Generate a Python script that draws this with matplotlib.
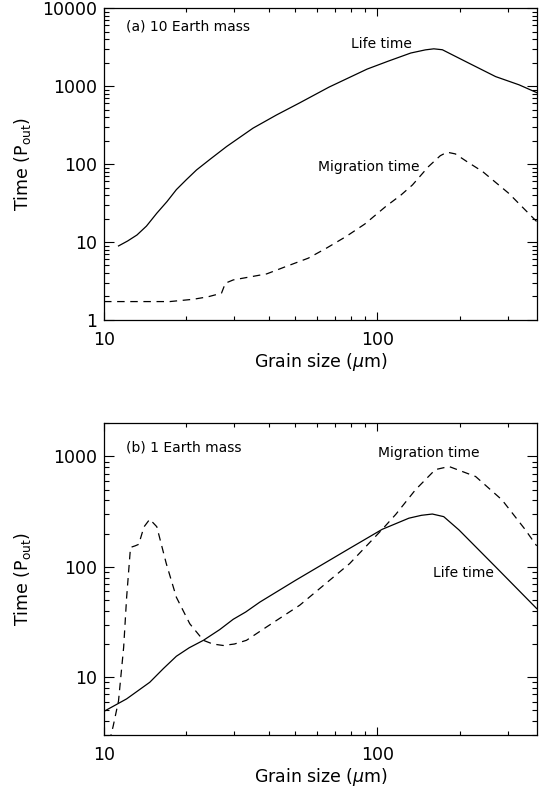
import matplotlib
matplotlib.use('Agg')
import matplotlib.pyplot as plt
from matplotlib.ticker import FixedLocator, FuncFormatter, NullFormatter, LogLocator

# (a) 10 Earth mass
size_life_a = [11.3, 12.2, 13.2, 14.3, 15.6, 17.0, 18.4, 20.0, 21.8, 24.5, 28.1, 31.5,
               35.1, 42.8, 52.0, 66.6, 91.8, 110, 132.6, 150, 161, 173, 190, 216, 271, 330, 383]
life_a = [8.9, 10.3, 12.3, 16.0, 23.4, 33, 47, 62.9, 84, 116, 168, 222,
          289, 427, 610, 972, 1655, 2100, 2660, 2920, 3010, 2930, 2480, 1976, 1325, 1040, 826]

size_mig_a = [10.0, 14.0, 17.4, 21.2, 24.0, 26.9, 27.8, 29.7, 34.0, 39.4, 46.0, 55.9, 65.0,
              76.7, 90.0, 107.3, 122, 134.5, 154, 170, 180, 193, 215, 243, 303, 383]
mig_a = [1.72, 1.72, 1.72, 1.84, 1.98, 2.2, 2.96, 3.26, 3.55, 3.9, 4.8, 6.2, 8.3,
         11.7, 17.0, 28.5, 40, 54, 93, 128, 142, 135, 105, 80, 42, 18.3]

# (b) 1 Earth mass
size_life_b = [10.0, 12.1, 14.7, 16.5, 18.4, 20.5, 23.1, 26.5, 29.7, 33.0, 37.2, 50.3,
               79.2, 104.3, 130.5, 145, 159, 175, 199, 271, 383]
life_b = [4.91, 6.37, 9.0, 12.0, 15.5, 18.5, 21.6, 27, 33.5, 39, 48, 75.7,
          147, 219, 276, 293, 301, 285, 216, 100, 41.9]

size_mig_b = [10.2, 10.8, 11.3, 11.8, 12.1, 12.5, 13.0, 13.4, 14.0, 14.7, 15.6, 16.9, 18.4,
              20.6, 23.1, 25.0, 27.3, 30.0, 33.2, 39.3, 52.0, 79.2, 104.3, 117, 138, 163,
              183, 229, 286, 345, 383]
mig_b = [2.0, 3.6, 6.1, 18.7, 53, 150, 155, 160, 230, 270, 231, 107, 53,
         30.5, 21.6, 20.0, 19.4, 20.0, 21.6, 28.5, 44.9, 107, 219, 300, 500, 760,
         811, 658, 404, 223, 155]

xmin, xmax = 10, 384

plt.rcParams['font.family'] = ['DejaVu Sans']
plt.rcParams['mathtext.fontset'] = 'dejavusans'

fig = plt.figure(figsize=(5.46, 7.88), dpi=100)
ax1 = fig.add_axes([0.1905, 0.594, 0.793, 0.3956])
ax2 = fig.add_axes([0.1905, 0.0673, 0.793, 0.3956])

dash = (0, (6, 4.5))


def style(ax, ylo, yhi, ymajor):
    ax.set_xscale('log')
    ax.set_yscale('log')
    ax.set_xlim(xmin, xmax)
    ax.set_ylim(ylo, yhi)
    ax.xaxis.set_major_locator(FixedLocator([10, 100]))
    ax.xaxis.set_minor_locator(LogLocator(base=10, subs=range(2, 10), numticks=20))
    ax.yaxis.set_major_locator(FixedLocator(ymajor))
    ax.yaxis.set_minor_locator(LogLocator(base=10, subs=range(2, 10), numticks=20))
    fmt = FuncFormatter(lambda v, p: '%d' % round(v))
    ax.xaxis.set_major_formatter(fmt)
    ax.yaxis.set_major_formatter(fmt)
    ax.xaxis.set_minor_formatter(NullFormatter())
    ax.yaxis.set_minor_formatter(NullFormatter())
    ax.tick_params(which='both', direction='in', top=True, right=True, width=0.8,
                   labelsize=12.5, colors='black')
    ax.tick_params(axis='x', which='major', length=5.5, pad=8)
    ax.tick_params(axis='x', which='minor', length=3)
    ax.tick_params(axis='y', which='major', length=7.5, pad=5)
    ax.tick_params(axis='y', which='minor', length=3.8)
    for s in ax.spines.values():
        s.set_linewidth(0.9)
    ax.set_xlabel('Grain size ($\\mu$m)', fontsize=12.5)
    ax.set_ylabel('Time (P$_{\\rm out}$)', fontsize=12.5)
    ax.xaxis.set_label_coords(0.5, -0.1)
    ax.yaxis.set_label_coords(-0.165, 0.5)


ax1.plot(size_life_a, life_a, color='black', lw=0.9)
ax1.plot(size_mig_a, mig_a, color='black', lw=0.9, linestyle=dash)
style(ax1, 1, 10000, [1, 10, 100, 1000, 10000])
ax1.text(0.051, 0.941, '(a) 10 Earth mass', transform=ax1.transAxes, fontsize=10, va='center')
ax1.text(0.570, 0.885, 'Life time', transform=ax1.transAxes, fontsize=10, va='center')
ax1.text(0.4935, 0.492, 'Migration time', transform=ax1.transAxes, fontsize=10, va='center')

ax2.plot(size_life_b, life_b, color='black', lw=0.9)
ax2.plot(size_mig_b, mig_b, color='black', lw=0.9, linestyle=dash)
style(ax2, 3, 2000, [10, 100, 1000])
ax2.text(0.051, 0.923, '(b) 1 Earth mass', transform=ax2.transAxes, fontsize=10, va='center')
ax2.text(0.632, 0.906, 'Migration time', transform=ax2.transAxes, fontsize=10, va='center')
ax2.text(0.7605, 0.519, 'Life time', transform=ax2.transAxes, fontsize=10, va='center')

fig.savefig('out.png', dpi=100)
